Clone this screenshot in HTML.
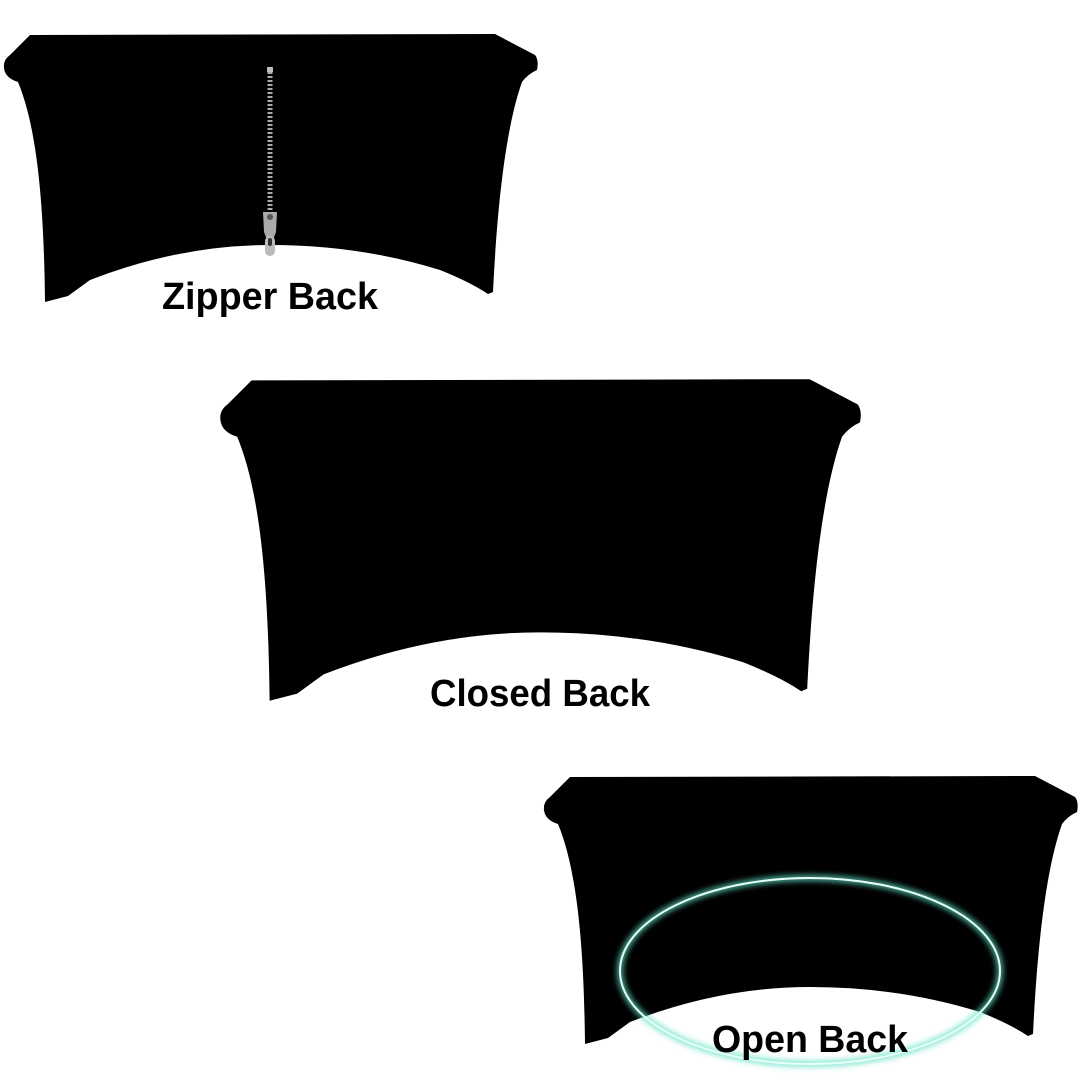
<!DOCTYPE html>
<html><head><style>
html,body{margin:0;padding:0;background:#fff;}
svg{display:block;}
text{font-family:"Liberation Sans",sans-serif;font-weight:bold;fill:#000;}
</style></head><body>
<svg width="1080" height="1080" viewBox="0 0 1080 1080" xmlns="http://www.w3.org/2000/svg">
<defs>
<path id="cover" d="M30,35 L495,34 L535,55 Q539,60 537,70 Q528,74 522,82 C505,130 497,210 493,292 L488,294 Q470,282 440,270 Q360,245 270,245 Q180,245 90,280 L68,296 L45,302 C44,210 38,130 18,82 Q5,78 4,68 Q3,60 10,55 Z"/>
<filter id="glow" x="-20%" y="-20%" width="140%" height="140%"><feGaussianBlur stdDeviation="3"/></filter>
</defs>
<use href="#cover" fill="#000"/>
<use href="#cover" fill="#000" transform="translate(215.6,338.4) scale(1.2)"/>
<use href="#cover" fill="#000" transform="translate(540,742)"/>
<rect x="267" y="67" width="6" height="5" fill="#bbb"/>
<line x1="270" y1="72" x2="270" y2="212" stroke="#aaa" stroke-width="5" stroke-dasharray="2 2"/>
<path d="M263,212 L277,212 L276,232 L273,240 L267,240 L264,232 Z" fill="#aaa"/>
<circle cx="270" cy="217" r="3" fill="#555"/>
<rect x="265" y="236" width="10" height="20" rx="5" fill="#bbb"/>
<rect x="268" y="238" width="4" height="8" rx="2" fill="#333"/>
<ellipse cx="810" cy="971" rx="190" ry="93" fill="none" stroke="#5fe0c4" stroke-width="6" filter="url(#glow)" opacity="0.8"/>
<ellipse cx="810" cy="971" rx="190" ry="93" fill="none" stroke="#e6fff8" stroke-width="2"/>
<text x="270" y="309" font-size="38" text-anchor="middle" textLength="216" lengthAdjust="spacingAndGlyphs">Zipper Back</text>
<text x="540" y="706" font-size="38" text-anchor="middle" textLength="220" lengthAdjust="spacingAndGlyphs">Closed Back</text>
<text x="810" y="1052" font-size="38" text-anchor="middle" textLength="196" lengthAdjust="spacingAndGlyphs">Open Back</text>
</svg>
</body></html>
